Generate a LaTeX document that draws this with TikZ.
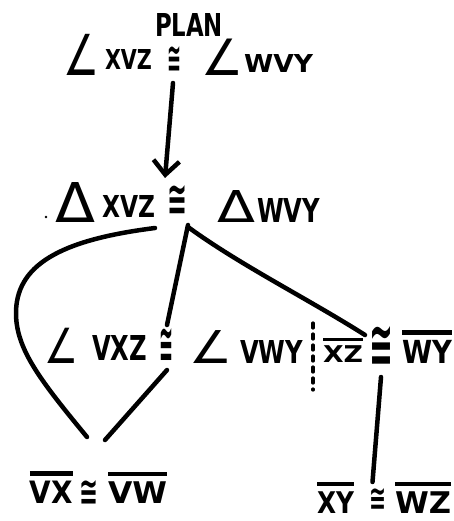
\documentclass[tikz,border=0pt]{standalone}
\usepackage{fontspec}
\usepackage{graphicx}
\usetikzlibrary{arrows.meta,calc}
\newfontfamily\hand{DejaVu Sans}
% text scaled to a given width and height (in pt)
\newcommand\fitbox[3]{\resizebox{#1pt}{#2pt}{\hand\bfseries #3}}
% same, in the regular weight
\newcommand\fitthin[3]{\resizebox{#1pt}{#2pt}{\hand #3}}
% angle sign whose box is cut down to the drawn part
\newcommand\angl{\smash{∠}\vrule width 0pt height 0.85\fontcharht\font"2220\relax}
% a segment name with a bar over it
\newcommand\seg[1]{\vbox{\hrule height 0.15em\kern 0.16em\hbox{#1}}}
\begin{document}
\begin{tikzpicture}[x=1pt,y=-1pt,
  txt/.style={inner sep=0pt,outer sep=0pt,anchor=north west},
  stroke/.style={line width=4.5pt,line cap=round,line join=round},
  dots/.style={line width=3.2pt,line cap=round,dash pattern=on 5pt off 6pt}]
\useasboundingbox (0,0) rectangle (453,521);
\fill[white] (0,0) rectangle (453,521);

% plan heading and the given angles
\node[txt] (plan) at (155,13) {\fitbox{68}{23}{PLAN}};
\node[txt] (r1a) at (63,40)  {\fitthin{36}{35}{\angl}};
\node[txt] (r1b) at (105,50) {\fitbox{47}{20}{XVZ}};
\node[txt] (r1c) at (167,46) {\fitbox{14}{26}{≅}};
\node[txt] (r1d) at (201,44) {\fitthin{42}{31}{\angl}};
\node[txt] (r1e) at (244,55) {\fitbox{69}{18}{WVY}};

% triangle congruence
\fill (46,217) circle (1.3pt);
\node[txt] (r2a) at (55,182)  {\fitthin{40}{40}{Δ}};
\node[txt] (r2b) at (102,195) {\fitbox{53}{22}{XVZ}};
\node[txt] (r2c) at (167,185) {\fitbox{20}{30}{≅}};
\node[txt] (r2d) at (217,190) {\fitthin{38}{32}{Δ}};
\node[txt] (r2e) at (257,198) {\fitbox{63}{24}{WVY}};

% third row: angles and segments
\node[txt] (r3a) at (44,333)  {\fitthin{34}{30}{\angl}};
\node[txt] (r3b) at (92,335)  {\fitbox{55}{25}{VXZ}};
\node[txt] (r3c) at (159,328) {\fitbox{14}{34}{≅}};
\node[txt] (r3d) at (189,335) {\fitthin{43}{28}{\angl}};
\node[txt] (r3e) at (240,340) {\fitbox{63}{23}{VWY}};
\node[txt] (r3f) at (323,338) {\fitbox{40}{24}{\seg{XZ}}};
\node[txt] (r3g) at (369,326) {\fitbox{24}{40}{≅}};
\node[txt] (r3h) at (402,330) {\fitbox{50}{33}{\seg{WY}}};

% bottom row: segments
\node[txt] (r4a) at (30,471)  {\fitbox{43}{32}{\seg{VX}}};
\node[txt] (r4b) at (79,480)  {\fitbox{19}{25}{≅}};
\node[txt] (r4c) at (108,472) {\fitbox{59}{31}{\seg{VW}}};
\node[txt] (r4d) at (317,482) {\fitbox{37}{31}{\seg{XY}}};
\node[txt] (r4e) at (369,488) {\fitbox{17}{22}{≅}};
\node[txt] (r4f) at (395,482) {\fitbox{56}{31}{\seg{WZ}}};

% connectors
\draw[stroke,-{Straight Barb[length=14pt,width=26pt]}]
  ([xshift=-1pt,yshift=-11pt]r1c.south) -- ([xshift=-12pt,yshift=7pt]r2c.north);
\draw[stroke] ([yshift=-11pt]r2b.south east)
  .. controls (60,240) and (15,265) .. (16,315)
  .. controls (17,350) and (40,380) .. ([xshift=14pt,yshift=34pt]r4a.north east);
\draw[stroke] ([xshift=1pt,yshift=-10pt]r2c.south east)
  -- ([xshift=1pt,yshift=3pt]r3c.north);
\draw[stroke] ([xshift=1pt,yshift=-12pt]r2c.south east)
  .. controls (240,265) and (310,300) .. ([xshift=2pt,yshift=3pt]r3f.north east);
\draw[stroke] ([xshift=1pt,yshift=-8pt]r3c.south)
  -- ([xshift=-3pt,yshift=32pt]r4c.north west);
\draw[stroke] ([yshift=-11pt]r3g.south)
  -- ([xshift=-5pt,yshift=6pt]r4e.north);
\draw[dots] ([xshift=10pt,yshift=17pt]r3e.north east)
  -- ([xshift=10pt,yshift=-27pt]r3e.south east);
\end{tikzpicture}
\end{document}
